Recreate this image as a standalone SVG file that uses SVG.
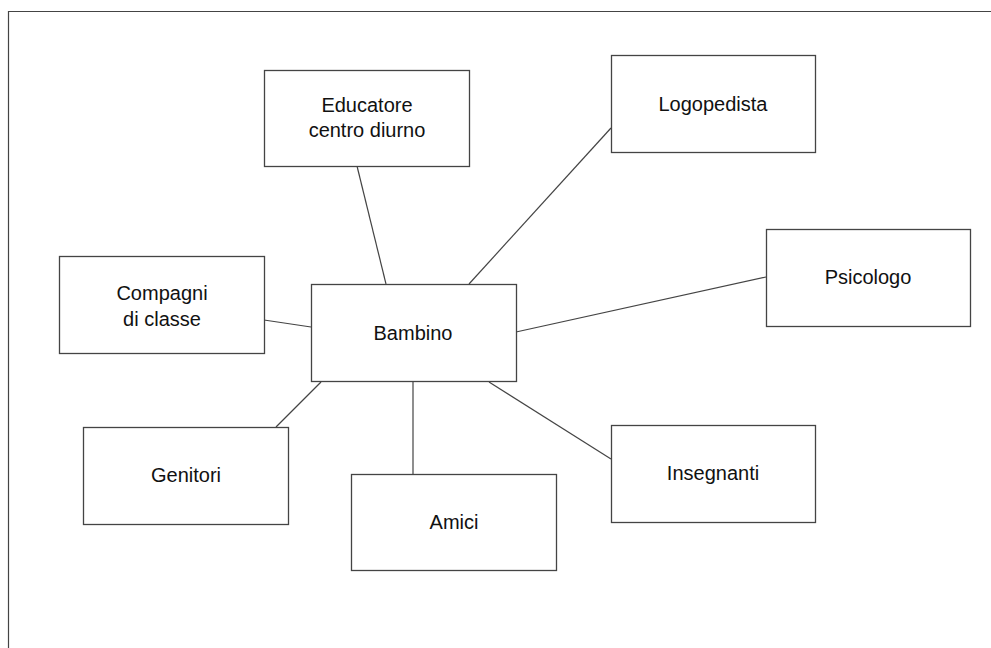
<svg xmlns="http://www.w3.org/2000/svg" width="991" height="648" viewBox="0 0 991 648">
<style>
.box{fill:#fff;stroke:#444;stroke-width:1.3}
.ln{stroke:#444;stroke-width:1.2;fill:none}
text{font-family:"Liberation Sans",Arial,sans-serif;font-size:20px;fill:#111;text-anchor:middle}
</style>
<rect width="991" height="648" fill="#fff"/>
<path d="M8.5,648 V11.5 H991" class="ln" stroke-width="1.5"/>
<g id="connectors">
<line class="ln" x1="357" y1="166" x2="386" y2="284"/>
<line class="ln" x1="611" y1="128" x2="469" y2="284"/>
<line class="ln" x1="766" y1="277" x2="516" y2="332"/>
<line class="ln" x1="264" y1="320" x2="311" y2="327"/>
<line class="ln" x1="276" y1="427" x2="321" y2="382"/>
<line class="ln" x1="413" y1="382" x2="413" y2="474"/>
<line class="ln" x1="489" y1="382" x2="611" y2="459"/>
</g>
<g id="bambino"><rect class="box" x="311.5" y="284.5" width="205" height="97"/><text x="413" y="340">Bambino</text></g>
<g id="educatore"><rect class="box" x="264.5" y="70.5" width="205" height="96"/><text x="367" y="112">Educatore</text><text x="367" y="137">centro diurno</text></g>
<g id="logopedista"><rect class="box" x="611.5" y="55.5" width="204" height="97"/><text x="713" y="111">Logopedista</text></g>
<g id="psicologo"><rect class="box" x="766.5" y="229.5" width="204" height="97"/><text x="868" y="284">Psicologo</text></g>
<g id="compagni"><rect class="box" x="59.5" y="256.5" width="205" height="97"/><text x="162" y="300">Compagni</text><text x="162" y="326">di classe</text></g>
<g id="genitori"><rect class="box" x="83.5" y="427.5" width="205" height="97"/><text x="186" y="482">Genitori</text></g>
<g id="amici"><rect class="box" x="351.5" y="474.5" width="205" height="96"/><text x="454" y="529">Amici</text></g>
<g id="insegnanti"><rect class="box" x="611.5" y="425.5" width="204" height="97"/><text x="713" y="480">Insegnanti</text></g>
</svg>
